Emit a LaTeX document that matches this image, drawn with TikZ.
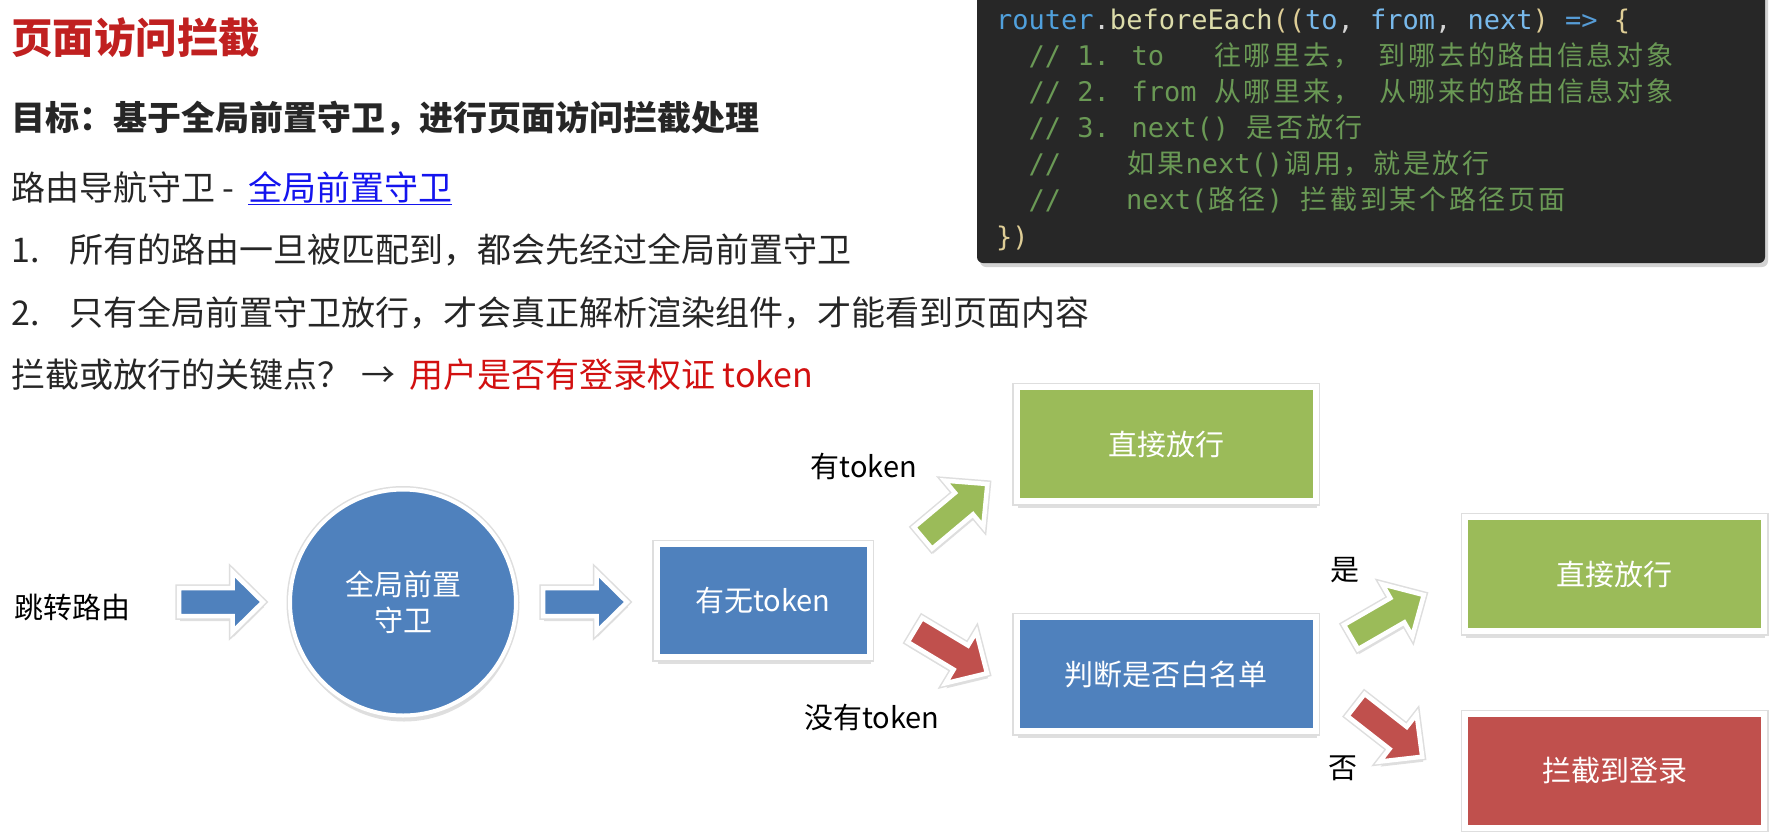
\documentclass[tikz,border=0pt]{standalone}
\usepackage{fontspec}
\setmainfont{Noto Sans CJK SC}
\newfontfamily\monof{DejaVu Sans Mono}
\newfontfamily\codecjk{Noto Sans CJK SC}
\usetikzlibrary{shadows}
\definecolor{titlered}{RGB}{192,32,32}
\definecolor{keyred}{RGB}{210,16,16}
\definecolor{textgray}{RGB}{38,38,38}
\definecolor{linkblue}{RGB}{20,20,238}
\definecolor{codebg}{RGB}{39,39,39}
\definecolor{cblue}{RGB}{80,160,220}
\definecolor{cwhite}{RGB}{212,212,212}
\definecolor{cyel}{RGB}{220,220,170}
\definecolor{cpar}{RGB}{222,205,150}
\definecolor{cparam}{RGB}{120,185,235}
\definecolor{ckw}{RGB}{86,156,214}
\definecolor{cgreen}{RGB}{106,153,85}
\definecolor{fblue}{RGB}{79,129,189}
\definecolor{fgreen}{RGB}{155,187,89}
\definecolor{fred}{RGB}{192,80,77}
\definecolor{halo}{RGB}{222,222,222}
\newlength\cw \setlength\cw{16.25pt}
\newcommand\cjb[1]{\cjbloop#1\relax}
\def\cjbloop#1{\ifx\relax#1\else\makebox[29.7pt][c]{\codecjk #1}\expandafter\cjbloop\fi}
\tikzset{
  body/.style={anchor=base west, inner sep=0pt, text=textgray, font=\fontsize{34}{40}\selectfont},
  codeline/.style={anchor=base west, inner sep=0pt, text=cgreen, font=\monof\fontsize{27}{32}\selectfont},
  flowbox/.style={draw=white, line width=6pt, inner sep=0pt, minimum width=299pt, minimum height=114pt,
    text=white, font=\fontsize{29}{36}\selectfont,
    drop shadow={opacity=0.25, shadow xshift=1pt, shadow yshift=-7pt},
    preaction={draw=halo, line width=9pt}},
  lbl/.style={inner sep=0pt, font=\fontsize{29}{36}\selectfont, text=black},
  blockarr/.style={draw=white, line width=4.5pt, line join=miter,
    drop shadow={opacity=0.25, shadow xshift=1pt, shadow yshift=-5pt},
    preaction={draw=halo, line width=7.5pt, line join=miter}}
}
\newcommand\barrow[3]{\draw[blockarr, fill=#1, shift={(#2)}, rotate=#3]
  (0,14) -- (53.5,14) -- (53.5,30) -- (84,0) -- (53.5,-30) -- (53.5,-14) -- (0,-14) -- cycle;}
\begin{document}
\begin{tikzpicture}[x=1pt, y=-1pt]
\useasboundingbox (0,0) rectangle (1778,831);
\fill[white] (0,0) rectangle (1778,831);

% heading and text
\node[body, text=titlered, font=\fontsize{41.5}{48}\selectfont\bfseries] (title) at (11,53) {页面访问拦截};
\node[body, font=\fontsize{34}{40}\selectfont\bfseries] (goal) at (11,130) {目标：基于全局前置守卫，进行页面访问拦截处理};
\node[body] (l3) at (11,200) {路由导航守卫 -};
\node[body, text=linkblue] (l3b) at (248,200) {\underline{全局前置守卫}};
\node[body] (l4) at (11,262) {\makebox[58pt][l]{1.}所有的路由一旦被匹配到，都会先经过全局前置守卫};
\node[body] (l5) at (11,325) {\makebox[58pt][l]{2.}只有全局前置守卫放行，才会真正解析渲染组件，才能看到页面内容};
\node[body] (l6a) at (11,387) {拦截或放行的关键点？};
\node[body] (l6b) at (361,387) {→};
\node[body, text=keyred] (l6c) at (409,387) {用户是否有登录权证 token};

% code box
\fill[codebg, rounded corners=6pt, drop shadow={opacity=0.35, shadow xshift=3pt, shadow yshift=-4pt}] (977,-12) rectangle (1765,263);
\node[codeline] (c1) at (996,29) {\textcolor{cblue}{router}\textcolor{cwhite}{.}\textcolor{cyel}{beforeEach}\textcolor{cpar}{((}\textcolor{cparam}{to}\textcolor{cwhite}{,} \textcolor{cparam}{from}\textcolor{cwhite}{,} \textcolor{cparam}{next}\textcolor{cpar}{)} \textcolor{ckw}{=>} \textcolor{cpar}{\{}};
\node[codeline] (c2) at (996,65.5) {\hspace*{2\cw}// 1. to\hspace*{3\cw}\cjb{往哪里去，}\hspace*{1\cw}\cjb{到哪去的路由信息对象}};
\node[codeline] (c3) at (996,101.5) {\hspace*{2\cw}// 2. from\hspace*{1\cw}\cjb{从哪里来，}\hspace*{1\cw}\cjb{从哪来的路由信息对象}};
\node[codeline] (c4) at (996,137.5) {\hspace*{2\cw}// 3. next()\hspace*{1\cw}\cjb{是否放行}};
\node[codeline] (c5) at (996,173.5) {\hspace*{2\cw}//\hspace*{4\cw}\cjb{如果}next()\cjb{调用，就是放行}};
\node[codeline] (c6) at (996,209.5) {\hspace*{2\cw}//\hspace*{4\cw}next(\cjb{路径})\hspace*{1\cw}\cjb{拦截到某个路径页面}};
\node[codeline, text=cpar] (c7) at (996,246) {\})};

% flow
\node[lbl] (jump) at (72,607) {跳转路由};
\node[draw=white, line width=4pt, circle, fill=fblue, minimum size=226pt, inner sep=0pt,
  text=white, align=center, font=\fontsize{29}{36}\selectfont,
  drop shadow={opacity=0.25, shadow xshift=1pt, shadow yshift=-6pt},
  preaction={draw=halo, line width=7pt}] (guard) at (403,602.5) {全局前置\\守卫};
\node[flowbox, fill=fblue, minimum width=213pt, minimum height=113pt] (has) at (763,600.5) {有无token};
\node[flowbox, fill=fgreen] (pass1) at (1166,444) {直接放行};
\node[flowbox, fill=fblue] (white) at (1166,674) {判断是否白名单};
\node[flowbox, fill=fgreen] (pass2) at (1614.5,574) {直接放行};
\node[flowbox, fill=fred] (login) at (1614.5,771) {拦截到登录};

\coordinate (a1) at (179,602);
\coordinate (a2) at (543,602);
\coordinate (a3) at (923,538);
\coordinate (a4) at (915,630);
\coordinate (a5) at (1351,637);
\coordinate (a6) at (1356,705);
\barrow{fblue}{a1}{0}
\barrow{fblue}{a2}{0}
\barrow{fgreen}{a3}{40}
\barrow{fred}{a4}{-31}
\barrow{fgreen}{a5}{30}
\barrow{fred}{a6}{-38}

\node[lbl] (yes1) at (864,466) {有token};
\node[lbl] (no1) at (872,717) {没有token};
\node[lbl] (yes2) at (1345,570) {是};
\node[lbl] (no2) at (1343,768) {否};
\end{tikzpicture}
\end{document}
